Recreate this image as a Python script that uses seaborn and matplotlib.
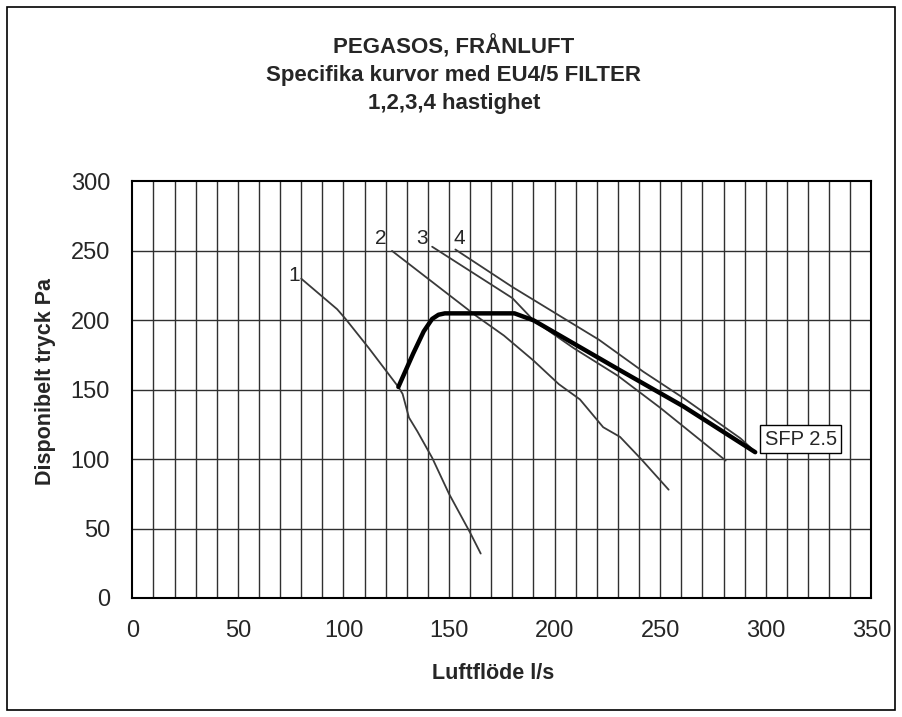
"""
PEGASOS, FRÅNLUFT - fan curves with EU4/5 filter (speeds 1-4) and SFP 2.5 limit.
"""
import matplotlib
matplotlib.use('Agg')
import matplotlib.pyplot as plt
from matplotlib.patches import Rectangle
import pandas as pd
import seaborn as sns

sns.set_style("white")
plt.rcParams['font.family'] = ['Liberation Sans', 'DejaVu Sans']

# Speed curves (airflow l/s, pressure Pa)
speed1_x = [80, 97, 101, 112, 120, 126, 128, 131, 135, 142, 150, 155, 160, 165]
speed1_y = [230, 208, 201, 180, 164, 152, 147, 130, 120, 101, 75, 61, 47, 32]

speed2_x = [123, 163, 176, 190, 202, 212, 223, 231, 241, 254]
speed2_y = [250, 203, 189, 171, 154, 143, 123, 116, 100, 78]

speed3_x = [142, 180, 190, 209, 230, 250, 281]
speed3_y = [253, 216, 200, 180, 160, 137, 99]

speed4_x = [153, 180, 221, 242, 261, 288, 293]
speed4_y = [251, 224, 186, 163, 144, 115, 108]

# SFP 2.5 limit curve
sfp_x = [126, 133, 138, 142, 145, 148, 181, 190, 231, 261, 295]
sfp_y = [152, 176, 192, 201, 204, 205, 205, 200, 164, 138, 105]

speed_labels = ['1', '2', '3', '4']
speed_label_pos = [(76.5, 232.5), (117.5, 259), (137, 259), (155, 259)]

x_ticks = list(range(0, 351, 50))
y_ticks = list(range(0, 301, 50))

fig = plt.figure(figsize=(9.02, 7.17), dpi=100)
ax = fig.add_axes([0.1467, 0.166, 0.8193, 0.5809])

# grid: vertical every 10, horizontal every 50
for gx in range(10, 350, 10):
    ax.axvline(gx, color='#303030', lw=1.0, zorder=0)
for gy in range(50, 300, 50):
    ax.axhline(gy, color='#303030', lw=1.0, zorder=0)

curves = [(speed1_x, speed1_y), (speed2_x, speed2_y),
          (speed3_x, speed3_y), (speed4_x, speed4_y)]
for cx, cy in curves:
    df = pd.DataFrame({'x': cx, 'y': cy})
    sns.lineplot(data=df, x='x', y='y', ax=ax, color='#3a3a3a', lw=1.3,
                 sort=False, estimator=None)

df_sfp = pd.DataFrame({'x': sfp_x, 'y': sfp_y})
sns.lineplot(data=df_sfp, x='x', y='y', ax=ax, color='black', lw=3.2,
             sort=False, estimator=None, zorder=5)

for lab, (lx, ly) in zip(speed_labels, speed_label_pos):
    ax.text(lx, ly, lab, fontsize=15, ha='center', va='center')

ax.text(299.6, 114.5, 'SFP 2.5', fontsize=14.5, ha='left', va='center', zorder=6,
        bbox=dict(boxstyle='square,pad=0.22', fc='white', ec='black', lw=1.0))

ax.set_xlim(0, 350)
ax.set_ylim(0, 300)
ax.set_xticks(x_ticks)
ax.set_yticks(y_ticks)
ax.tick_params(axis='both', labelsize=17, direction='out', length=7,
               width=1, color='#303030', pad=9)
for s in ax.spines.values():
    s.set_color('black')
    s.set_linewidth(1.5)

ax.set_xlabel('Luftflöde l/s', fontsize=15.5, fontweight='bold')
ax.set_ylabel('Disponibelt tryck Pa', fontsize=15.5, fontweight='bold')
ax.xaxis.set_label_coords(0.488, -0.155)
ax.yaxis.set_label_coords(-0.103, 0.52)

fig.text(0.503, 0.896, 'PEGASOS, FRÅNLUFT\nSpecifika kurvor med EU4/5 FILTER\n1,2,3,4 hastighet',
         ha='center', va='center', fontsize=16, fontweight='bold',
         linespacing=1.4)

# outer frame around the whole chart
fig.patches.append(Rectangle((7 / 902, 7 / 717), 888 / 902, 703 / 717,
                             transform=fig.transFigure, fill=False,
                             ec='black', lw=1.2))

fig.savefig('out.png', dpi=100)
